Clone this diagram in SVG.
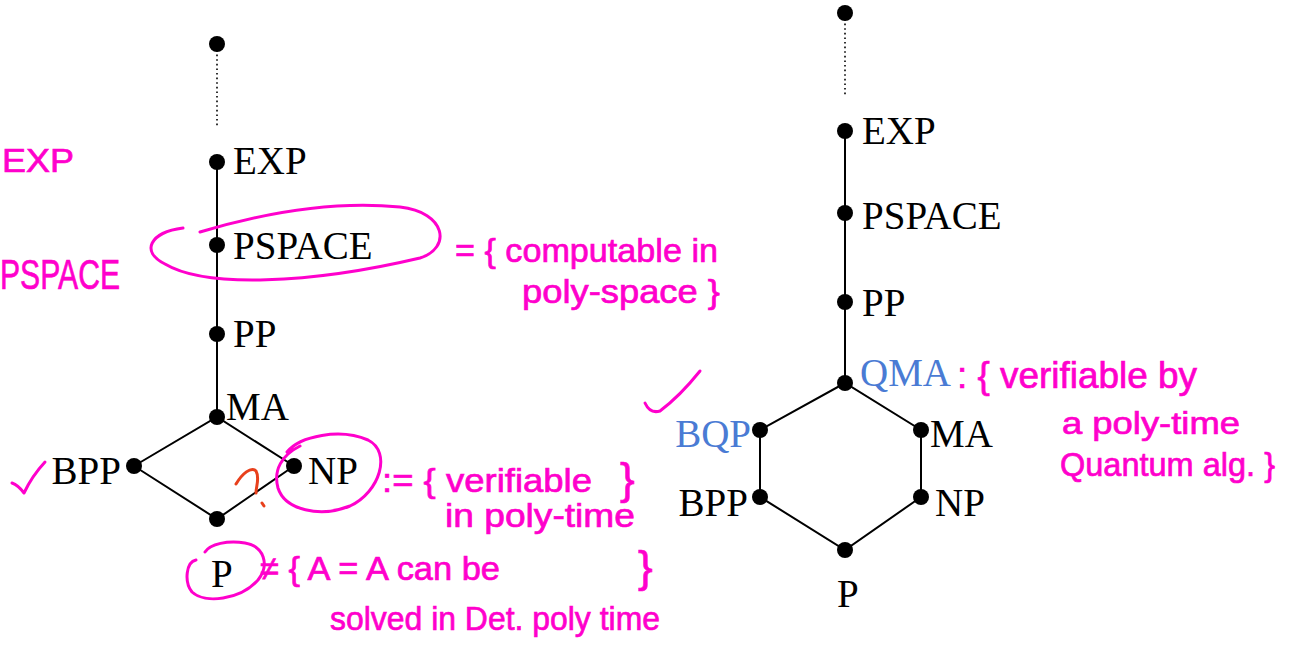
<svg xmlns="http://www.w3.org/2000/svg" width="1290" height="645" viewBox="0 0 1290 645">
<style>
.lbl{font-family:"Liberation Serif","Times New Roman",serif;font-size:39px;fill:#000}
.blue{fill:#4a7bd4}
.dot{fill:#000}
.edge{stroke:#000;stroke-width:2;fill:none}
.dotted{stroke:#000;stroke-width:1.6;stroke-dasharray:1.6 3;fill:none}
.hand{font-family:"Liberation Sans Narrow","Liberation Sans",sans-serif;fill:#f0c;stroke:#f0c;stroke-width:0.7}
.ink{stroke:#f0c;stroke-width:3;fill:none;stroke-linecap:round;stroke-linejoin:round}
.red{stroke:#e8401c;stroke-width:3;fill:none;stroke-linecap:round}
</style>
<rect width="1290" height="645" fill="#fff"/>
<g id="connectors">
  <line class="dotted" x1="217" y1="50" x2="217" y2="127"/>
  <line class="edge" x1="217" y1="162" x2="217" y2="417"/>
  <polyline class="edge" points="134,466 217,417 294,466"/>
  <polyline class="edge" points="134,466 217,519 294,466"/>
  <line class="dotted" x1="845" y1="19" x2="845" y2="97"/>
  <line class="edge" x1="845" y1="131" x2="845" y2="383"/>
  <polyline class="edge" points="760,430 845,383 921,430 921,497 845,550 760,497 760,430"/>
</g>
<g id="left-top"><circle class="dot" cx="217" cy="44" r="8"/></g>
<g id="left-EXP"><circle class="dot" cx="217" cy="162" r="8"/><text class="lbl" x="233" y="174">EXP</text></g>
<g id="left-PSPACE"><circle class="dot" cx="217" cy="245" r="8"/><text class="lbl" x="233" y="259">PSPACE</text></g>
<g id="left-PP"><circle class="dot" cx="217" cy="334" r="8"/><text class="lbl" x="233" y="347">PP</text></g>
<g id="left-MA"><circle class="dot" cx="217" cy="417" r="8"/><text class="lbl" x="226" y="420">MA</text></g>
<g id="left-BPP"><circle class="dot" cx="134" cy="466" r="8"/><text class="lbl" x="121" y="484" text-anchor="end">BPP</text></g>
<g id="left-NP"><circle class="dot" cx="294" cy="466" r="8"/><text class="lbl" x="308" y="484">NP</text></g>
<g id="left-P"><circle class="dot" cx="217" cy="519" r="8"/><text class="lbl" x="211" y="587">P</text></g>

<g id="right-top"><circle class="dot" cx="845" cy="13" r="8"/></g>
<g id="right-EXP"><circle class="dot" cx="845" cy="131" r="8"/><text class="lbl" x="862" y="144">EXP</text></g>
<g id="right-PSPACE"><circle class="dot" cx="845" cy="213" r="8"/><text class="lbl" x="862" y="229">PSPACE</text></g>
<g id="right-PP"><circle class="dot" cx="845" cy="302" r="8"/><text class="lbl" x="862" y="316">PP</text></g>
<g id="right-QMA"><circle class="dot" cx="845" cy="383" r="8"/><text class="lbl blue" x="860" y="386">QMA</text></g>
<g id="right-BQP"><circle class="dot" cx="760" cy="430" r="8"/><text class="lbl blue" x="751" y="447" text-anchor="end">BQP</text></g>
<g id="right-MA"><circle class="dot" cx="921" cy="430" r="8"/><text class="lbl" x="930" y="447">MA</text></g>
<g id="right-BPP"><circle class="dot" cx="760" cy="497" r="8"/><text class="lbl" x="748" y="516" text-anchor="end">BPP</text></g>
<g id="right-NP"><circle class="dot" cx="921" cy="497" r="8"/><text class="lbl" x="935" y="516">NP</text></g>
<g id="right-P"><circle class="dot" cx="845" cy="550" r="8"/><text class="lbl" x="837" y="607">P</text></g>

<g id="annotations">
  <text class="hand" x="2" y="172" font-size="34" textLength="72" lengthAdjust="spacingAndGlyphs">EXP</text>
  <text class="hand" x="0" y="289" font-size="42" textLength="120" lengthAdjust="spacingAndGlyphs">PSPACE</text>
  <path class="ink" d="M183 228 C150 232 140 252 165 264 C205 288 310 284 420 258 C452 248 446 212 400 207 C330 200 260 214 200 232"/>
  <text class="hand" x="455" y="262" font-size="34" textLength="263" lengthAdjust="spacingAndGlyphs">= { computable in</text>
  <text class="hand" x="522" y="303" font-size="34" textLength="198" lengthAdjust="spacingAndGlyphs">poly-space }</text>
  <path class="ink" d="M12 483 Q18 485 24 493 Q32 476 45 462"/>
  <path class="red" d="M236 484 C242 474 251 466 256 471 C260 478 256 486 256 493 M262 503 L264 506"/>
  <path class="ink" d="M287 452 C300 436 340 428 368 440 C392 452 380 492 350 506 C320 518 285 510 278 488 C273 470 282 455 300 446"/>
  <text class="hand" x="382" y="492" font-size="34" textLength="210" lengthAdjust="spacingAndGlyphs">:= { verifiable</text>
  <text class="hand" x="620" y="494" font-size="44">}</text>
  <text class="hand" x="445" y="527" font-size="34" textLength="190" lengthAdjust="spacingAndGlyphs">in poly-time</text>
  <path class="ink" d="M196 560 C186 562 184 582 192 592 C205 604 240 600 258 580 C270 565 264 546 245 543 C228 540 210 544 205 552"/>
  <text class="hand" x="260" y="580" font-size="34" textLength="240" lengthAdjust="spacingAndGlyphs">≠ { A = A can be</text>
  <text class="hand" x="638" y="582" font-size="44">}</text>
  <text class="hand" x="330" y="630" font-size="34" textLength="330" lengthAdjust="spacingAndGlyphs">solved in Det. poly time</text>
  <path class="ink" d="M645 403 Q650 414 660 411 Q680 396 700 371"/>
  <text class="hand" x="957" y="388" font-size="36" textLength="240" lengthAdjust="spacingAndGlyphs">: { verifiable by</text>
  <text class="hand" x="1062" y="434" font-size="32" textLength="178" lengthAdjust="spacingAndGlyphs">a poly-time</text>
  <text class="hand" x="1060" y="476" font-size="34" textLength="215" lengthAdjust="spacingAndGlyphs">Quantum alg. }</text>
</g>
</svg>
